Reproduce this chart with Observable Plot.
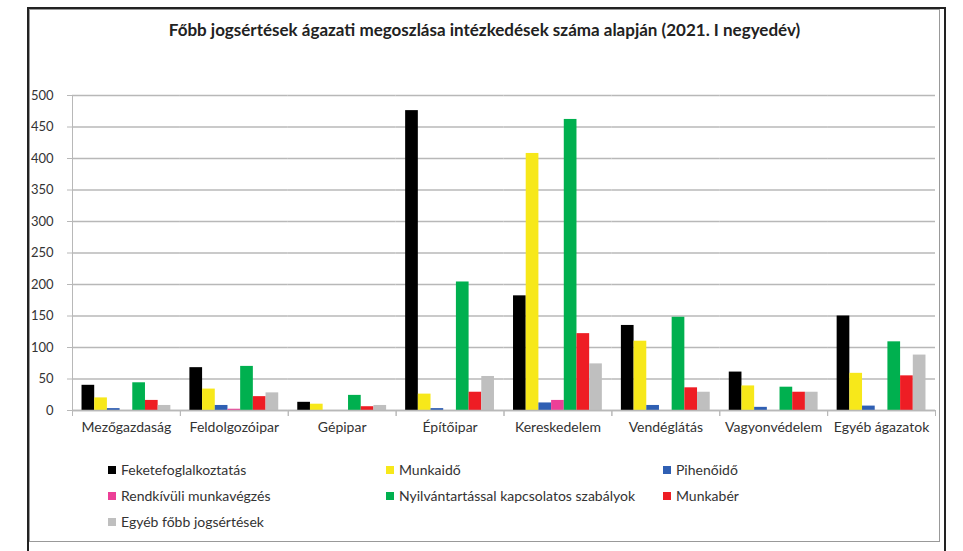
<!DOCTYPE html>
<html>
<head>
<meta charset="utf-8">
<script src="https://cdn.jsdelivr.net/npm/d3@7"></script>
<script src="https://cdn.jsdelivr.net/npm/@observablehq/plot@0.6"></script>
<style>
  html, body { margin: 0; padding: 0; background: #fff; width: 963px; height: 551px; overflow: hidden; }
  body { position: relative; font-family: Lato, "Open Sans", sans-serif; color: #333; }
  #outer { position: absolute; left: 27px; top: 7px; width: 919px; height: 600px; border: 2px solid #222; border-bottom: none; box-sizing: border-box; }
  #inner { position: absolute; left: 29px; top: 9px; width: 911px; height: 533px; border: 1px solid #999; box-sizing: border-box; }
  #title { position: absolute; left: 29px; width: 911px; top: 19px; text-align: center; font-weight: bold; font-size: 17px; color: #222; }
  #chart { position: absolute; left: 0; top: 80px; }
  #legend { position: absolute; left: 108px; top: 461px; display: grid; grid-template-columns: 278px 277px 200px; row-gap: 9px; font-size: 14px; color: #333; }
  .item { display: flex; align-items: center; height: 17px; white-space: nowrap; }
  .sw { width: 8px; height: 8px; margin-right: 5px; flex: none; }
</style>
</head>
<body>
<div id="outer"></div>
<div id="inner"></div>
<div id="title">Főbb jogsértések ágazati megoszlása intézkedések száma alapján (2021. I negyedév)</div>
<div id="chart"></div>
<div id="legend"></div>
<script>
const categories = ["Mezőgazdaság", "Feldolgozóipar", "Gépipar", "Építőipar", "Kereskedelem", "Vendéglátás", "Vagyonvédelem", "Egyéb ágazatok"];
const series = ["Feketefoglalkoztatás", "Munkaidő", "Pihenőidő", "Rendkívüli munkavégzés", "Nyilvántartással kapcsolatos szabályok", "Munkabér", "Egyéb főbb jogsértések"];
const colors = ["#000000", "#f7e81a", "#2f5fb3", "#ec3f97", "#00b04f", "#ee1d24", "#bfbfbf"];
const feketefoglalkoztatas = [40, 68, 13, 476, 182, 135, 61, 150];
const munkaido = [20, 34, 10, 26, 408, 110, 39, 59];
const pihenoido = [3, 8, 0, 3, 12, 8, 5, 7];
const rendkivuli = [0, 2, 0, 0, 16, 0, 0, 0];
const nyilvantartas = [44, 70, 24, 204, 462, 148, 37, 109];
const munkaber = [16, 22, 6, 29, 122, 36, 29, 55];
const egyeb = [8, 28, 8, 54, 74, 29, 29, 88];
const yTicks = [0, 50, 100, 150, 200, 250, 300, 350, 400, 450, 500];

const valuesBySeries = [feketefoglalkoztatas, munkaido, pihenoido, rendkivuli, nyilvantartas, munkaber, egyeb];
const rows = [];
categories.forEach((c, i) => series.forEach((s, j) => rows.push({category: c, series: s, value: valuesBySeries[j][i]})));

const gridColor = "#b8b8b8";
const chart = Plot.plot({
  width: 963,
  height: 370,
  marginLeft: 72,
  marginRight: 28,
  marginTop: 15,
  marginBottom: 40,
  style: {fontFamily: "Lato, 'Open Sans', sans-serif", fontSize: "13px", color: "#333", background: "transparent", overflow: "visible"},
  fx: {domain: categories, padding: 0, round: false, label: null},
  x: {domain: series, paddingInner: 0, paddingOuter: 0.75, round: false, axis: null},
  y: {domain: [0, 500], label: null},
  color: {domain: series, range: colors},
  marks: [
    Plot.gridY(yTicks, {stroke: gridColor, strokeOpacity: 1, strokeWidth: 1.3}),
    Plot.axisY(yTicks, {tickSize: 5, tickPadding: 14, stroke: gridColor, fill: "#333", fontSize: 13, label: null}),
    Plot.barY(rows, {fx: "category", x: "series", y: "value", fill: "series"}),
    Plot.ruleY([0], {stroke: gridColor, strokeWidth: 1.3}),
    Plot.frame({anchor: "left", insetTop: 315, insetBottom: -5, stroke: gridColor}),
    Plot.frame({anchor: "right", insetTop: 315, insetBottom: -5, stroke: gridColor}),
    Plot.frame({anchor: "left", facet: "super", stroke: gridColor}),
    Plot.axisFx({anchor: "bottom", tickSize: 0, tickPadding: 12, fontSize: 14, fill: "#333", label: null})
  ]
});
document.getElementById("chart").appendChild(chart);

const legend = document.getElementById("legend");
series.forEach((s, j) => {
  const item = document.createElement("div");
  item.className = "item";
  const sw = document.createElement("span");
  sw.className = "sw";
  sw.style.background = colors[j];
  item.appendChild(sw);
  item.appendChild(document.createTextNode(s));
  legend.appendChild(item);
});
</script>
</body>
</html>
